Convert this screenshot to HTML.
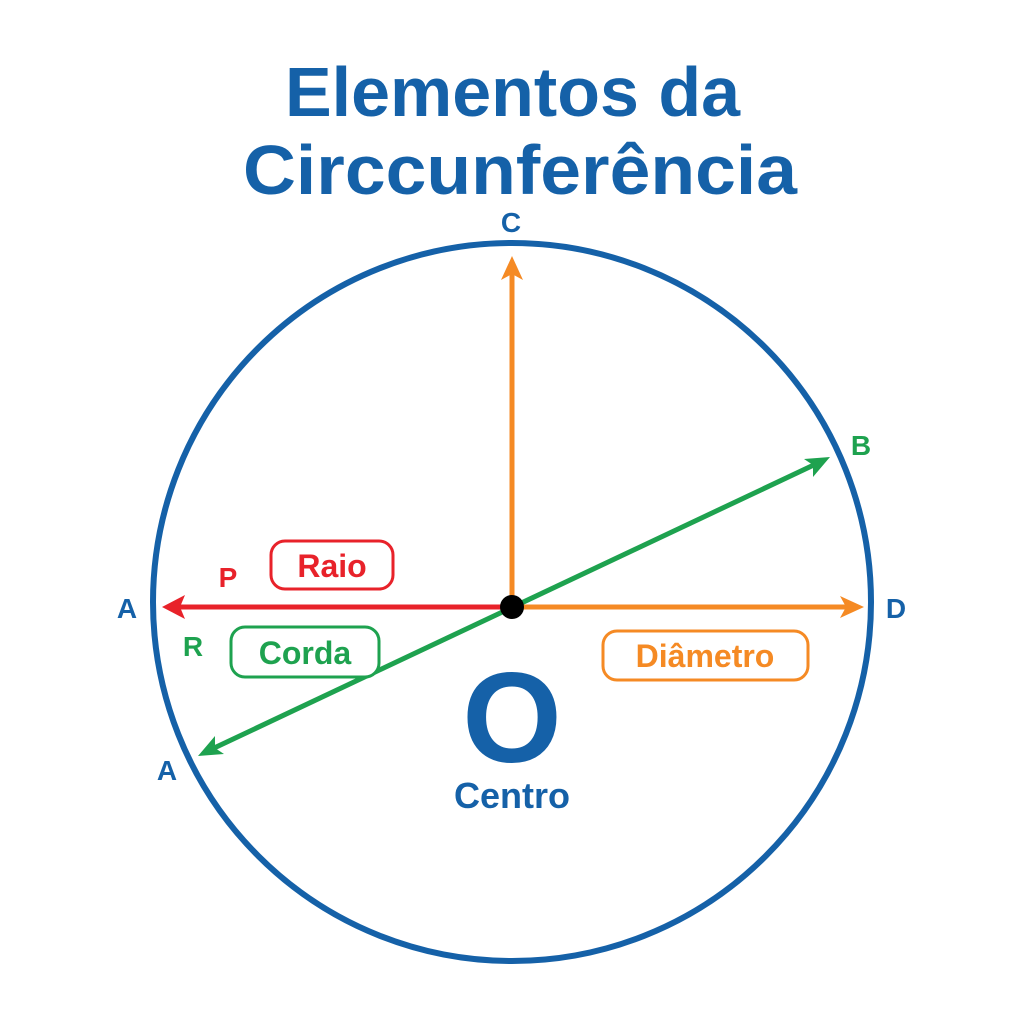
<!DOCTYPE html>
<html><head><meta charset="utf-8"><style>
html,body{margin:0;padding:0;background:#fff;}
svg{display:block;font-family:"Liberation Sans","DejaVu Sans",sans-serif;font-weight:bold;}
</style></head><body>
<svg width="1024" height="1024" viewBox="0 0 1024 1024" xmlns="http://www.w3.org/2000/svg">
<text x="285" y="116" font-size="70" fill="#1561a8" textLength="455" lengthAdjust="spacingAndGlyphs">Elementos da</text>
<text x="243" y="194" font-size="70" fill="#1561a8" textLength="554" lengthAdjust="spacingAndGlyphs">Circcunferência</text>
<circle cx="512" cy="602" r="359" fill="none" stroke="#1561a8" stroke-width="6"/>
<line x1="512" y1="607" x2="512" y2="272" stroke="#f58a24" stroke-width="5"/>
<path d="M512,256 L501,280 L512,274 L523,280 Z" fill="#f58a24"/>
<line x1="512" y1="607" x2="850" y2="607" stroke="#f58a24" stroke-width="5"/>
<path d="M864,607 L840,596 L846,607 L840,618 Z" fill="#f58a24"/>
<line x1="512" y1="607" x2="175" y2="607" stroke="#e8222a" stroke-width="5"/>
<path d="M162,607 L185,595 L180,607 L185,619 Z" fill="#e8222a"/>
<line x1="212" y1="749" x2="818" y2="463" stroke="#1ea24f" stroke-width="5"/>
<path d="M830,457 L804,459 L813,465 L813,477 Z" fill="#1ea24f"/>
<path d="M198,756 L224,754 L215,748 L215,736 Z" fill="#1ea24f"/>
<circle cx="512" cy="607" r="12" fill="#000"/>
<text x="511" y="232" font-size="28" fill="#1561a8" text-anchor="middle">C</text>
<text x="861" y="455" font-size="28" fill="#1ea24f" text-anchor="middle">B</text>
<text x="896" y="618" font-size="28" fill="#1561a8" text-anchor="middle">D</text>
<text x="127" y="618" font-size="28" fill="#1561a8" text-anchor="middle">A</text>
<text x="167" y="780" font-size="28" fill="#1561a8" text-anchor="middle">A</text>
<text x="228" y="587" font-size="28" fill="#e8222a" text-anchor="middle">P</text>
<text x="193" y="656" font-size="28" fill="#1ea24f" text-anchor="middle">R</text>
<rect x="271" y="541" width="122" height="48" rx="14" fill="#fff" stroke="#e8222a" stroke-width="3"/>
<text x="332" y="577" font-size="32" fill="#e8222a" text-anchor="middle">Raio</text>
<rect x="231" y="627" width="148" height="50" rx="14" fill="#fff" stroke="#1ea24f" stroke-width="3"/>
<text x="305" y="664" font-size="32" fill="#1ea24f" text-anchor="middle">Corda</text>
<rect x="603" y="631" width="205" height="49" rx="14" fill="#fff" stroke="#f58a24" stroke-width="3"/>
<text x="705" y="667" font-size="32" fill="#f58a24" text-anchor="middle">Diâmetro</text>
<text x="512" y="762" font-size="128" fill="#1561a8" text-anchor="middle">O</text>
<text x="512" y="808" font-size="36" fill="#1561a8" text-anchor="middle">Centro</text>
</svg>
</body></html>
